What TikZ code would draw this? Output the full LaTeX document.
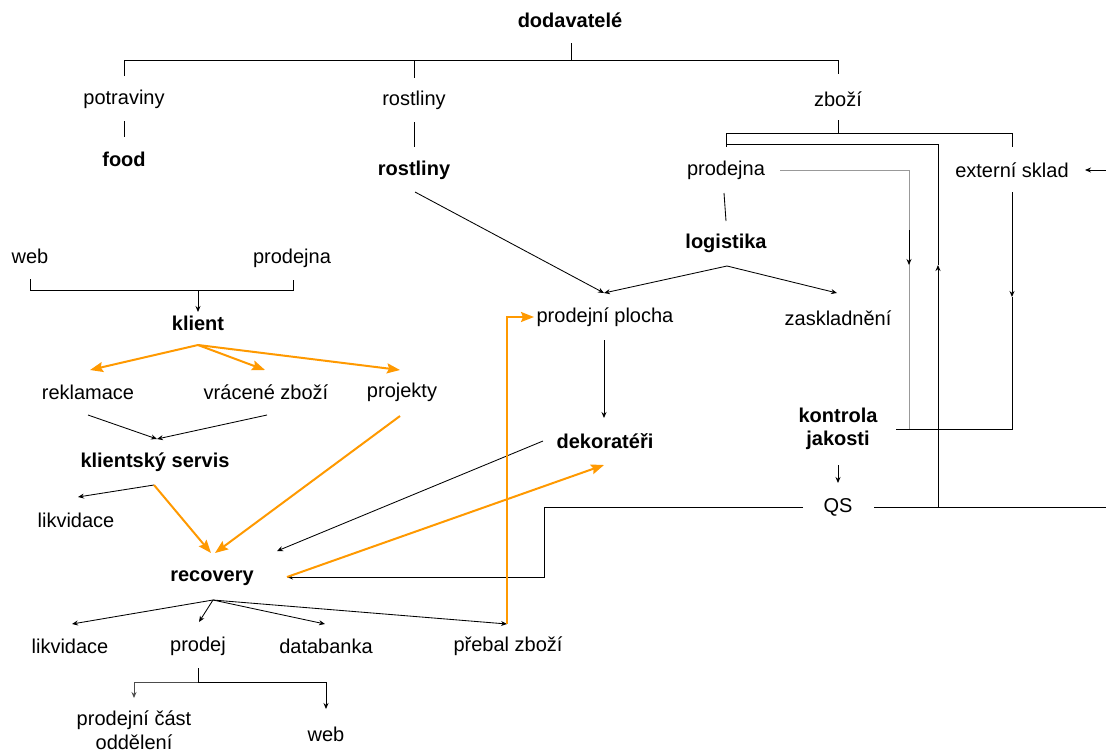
\documentclass[tikz,border=0pt]{standalone}
\usepackage{fontspec}
\setmainfont{Liberation Sans}
\usetikzlibrary{arrows.meta,calc}
\definecolor{flow}{RGB}{255,153,0}
\tikzset{
  lbl/.style={inner sep=0pt, align=center, font=\fontsize{20}{23.5}\selectfont},
  hd/.style={inner sep=0pt, align=center, font=\fontsize{20}{23.5}\selectfont\bfseries},
  ln/.style={line width=0.85pt, black},
  gln/.style={line width=0.85pt, black!40},
  arr/.style={ln, -{Stealth[length=6pt,width=5pt]}},
  oln/.style={line width=2pt, flow},
  oarr/.style={line width=2pt, flow, -{Stealth[length=13pt,width=10pt,inset=2pt]}},
}
\begin{document}
\begin{tikzpicture}[x=1pt,y=-1pt]
\useasboundingbox (0,0) rectangle (1106,753);

% ---- labels ----
\node[hd]  (dod)     at (570,20)  {dodavatelé};
\node[lbl] (potr)    at (124,99)  {potraviny};
\node[hd]  (food)    at (124,159) {food};
\node[lbl] (rost)    at (414,100) {rostliny};
\node[hd]  (rostB)   at (414,170) {rostliny};
\node[lbl] (zbozi)   at (838,99)  {zboží};
\node[lbl] (prodR)   at (726,170) {prodejna};
\node[lbl] (ext)     at (1012,170){externí sklad};
\node[hd]  (logi)    at (726,243) {logistika};
\node[lbl] (web1)    at (30,256)  {web};
\node[lbl] (prodL)   at (292,258) {prodejna};
\node[hd]  (klient)  at (198,323) {klient};
\node[lbl] (rekl)    at (88,392)  {reklamace};
\node[lbl] (vrac)    at (266,392) {vrácené zboží};
\node[lbl] (proj)    at (402,392) {projekty};
\node[hd]  (kserv)   at (155,462) {klientský servis};
\node[lbl] (likv1)   at (76,520)  {likvidace};
\node[hd]  (recov)   at (212,578) {recovery};
\node[lbl] (likv2)   at (70,646)  {likvidace};
\node[lbl] (prodej)  at (198,646) {prodej};
\node[lbl] (datab)   at (326,646) {databanka};
\node[lbl] (prebal)  at (508,646) {přebal zboží};
\node[lbl] (pcast)   at (134,730) {prodejní část\\oddělení};
\node[lbl] (web2)    at (326,734) {web};
\node[lbl] (pplocha) at (605,317) {prodejní plocha};
\node[lbl] (zask)    at (838,318) {zaskladnění};
\node[hd]  (dekor)   at (605,441) {dekoratéři};
\node[hd]  (kontr)   at (838,429) {kontrola\\jakosti};
\node[lbl] (qs)      at (838,507) {QS};

% ---- junctions and free ends ----
\coordinate (tj) at ($(dod)+(1,40)$);
\coordinate (zj) at ($(zbozi)+(0,34)$);
\coordinate (qj) at ($(qs)+(100,0)$);
\coordinate (qa) at ($(qs)+(100,-242)$);
\coordinate (qc) at ($(prodR)+(212,-26)$);
\coordinate (qd) at ($(prodR)+(0,-26)$);
\coordinate (pa1) at ($(kontr)+(71,-199)$);
\coordinate (pa2) at ($(kontr)+(71,-164)$);
\coordinate (ea) at ($(ext)+(0,127)$);
\coordinate (ec) at ($(kontr)+(174,0)$);
\coordinate (ql1) at ($(qs)+(-294,0)$);
\coordinate (ql2) at ($(qs)+(-294,70)$);
\coordinate (eR) at (1106,507);
\coordinate (eA) at (1106,170);
\coordinate (lf) at ($(logi)+(1,23)$);
\coordinate (rf) at ($(recov)+(1,22)$);
\coordinate (pbTip) at ($(prebal)+(-1,-22)$);
\coordinate (ppTip) at ($(pplocha)+(-1,-24)$);
\coordinate (pj) at ($(prodej)+(0,36)$);
\coordinate (kf) at ($(klient)+(0,22)$);
\coordinate (ksIn) at ($(kserv)+(2,-23)$);
\coordinate (ks) at ($(kserv)+(-1,23)$);
\coordinate (recE) at ($(recov)+(75,-1)$);

% ---- supplier tree ----
\draw[ln] ($(dod)+(1,23)$) -- (tj) -| ($(potr)+(0,-23)$);
\draw[ln] (tj) -| ($(rost)+(0,-22)$);
\draw[ln] (tj) -| ($(zbozi)+(0,-25)$);
\draw[ln] ($(potr)+(0,22)$) -- ($(food)+(0,-22)$);
\draw[ln] ($(rost)+(0,22)$) -- ($(rostB)+(0,-23)$);
\draw[ln] ($(zbozi)+(0,21)$) -- (zj);
\draw[ln] (zj) -| ($(prodR)+(0,-23)$);
\draw[ln] (zj) -| ($(ext)+(0,-23)$);

% ---- goods loop on the right ----
\draw[arr] (qj) -- (qa);
\draw[ln] (qa) -- (qc) -- (qd);
\draw[gln] ($(prodR)+(54,0)$) -| ($(kontr)+(71,0)$);
\draw[arr] (pa1) -- (pa2);
\draw[arr] ($(ext)+(0,22)$) -- (ea);
\draw[ln] (ea) |- (ec) -- ($(kontr)+(58,0)$);
\draw[arr] ($(kontr)+(0,36)$) -- ($(qs)+(0,-24)$);
\draw[arr] ($(qs)+(-35,0)$) -- (ql1) -- (ql2) -- (recE);
\draw[ln] ($(qs)+(36,0)$) -- (eR);
\draw[arr] (eA) -- ($(ext)+(73,0)$);

% ---- logistics ----
\draw[ln] ($(prodR)+(-2,23)$) -- ($(logi)+(0,-22)$);
\draw[arr] (lf) -- (ppTip);
\draw[arr] (lf) -- ($(zask)+(-1,-25)$);
\draw[arr] ($(rostB)+(1,22)$) -- (ppTip);
\draw[arr] ($(pplocha)+(-1,23)$) -- ($(dekor)+(-1,-23)$);
\draw[arr] ($(dekor)+(-62,0)$) -- ($(recov)+(65,-27)$);

% ---- client side ----
\draw[ln] ($(web1)+(0,23)$) |- ($(prodL)+(1,32)$) -- ($(prodL)+(1,22)$);
\draw[arr] ($(klient)+(0,-33)$) -- ($(klient)+(0,-11)$);
\draw[arr] ($(rekl)+(0,23)$) -- (ksIn);
\draw[arr] ($(vrac)+(1,23)$) -- (ksIn);
\draw[arr] (ks) -- ($(likv1)+(2,-23)$);

% ---- recovery outputs ----
\draw[arr] (rf) -- ($(likv2)+(2,-22)$);
\draw[arr] (rf) -- ($(prodej)+(1,-24)$);
\draw[arr] (rf) -- ($(datab)+(-1,-22)$);
\draw[arr] (rf) -- (pbTip);
\draw[ln] ($(prodej)+(0,22)$) -- (pj);
\draw[gln, -{Stealth[length=6pt,width=5pt]}, black!70] (pj) -| ($(pcast)+(0,-32)$);
\draw[arr] (pj) -| ($(web2)+(0,-25)$);

% ---- orange flows ----
\draw[oarr] (kf) -- ($(rekl)+(2,-22)$);
\draw[oarr] (kf) -- ($(vrac)+(-1,-22)$);
\draw[oarr] (kf) -- ($(proj)+(-2,-22)$);
\draw[oarr] (ks) -- ($(recov)+(-1,-25)$);
\draw[oarr] ($(proj)+(-2,24)$) -- ($(recov)+(3,-25)$);
\draw[oarr] (recE) -- ($(dekor)+(-1,24)$);
\draw[oarr] (pbTip) |- ($(pplocha)+(-71,0)$);

\end{tikzpicture}
\end{document}
